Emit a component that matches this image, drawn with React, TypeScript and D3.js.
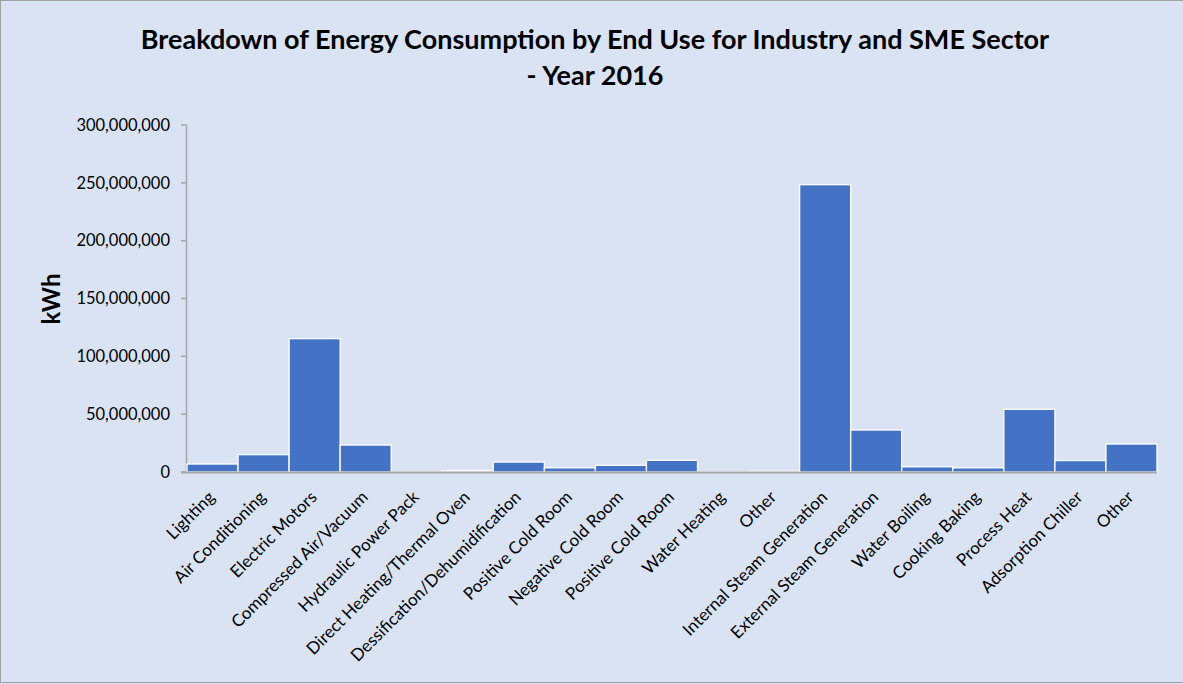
import React from "react";
import * as d3 from "d3";

const categories: string[] = [
  "Lighting",
  "Air Conditioning",
  "Electric Motors",
  "Compressed Air/Vacuum",
  "Hydraulic Power Pack",
  "Direct Heating/Thermal Oven",
  "Dessification/Dehumidification",
  "Positive Cold Room",
  "Negative Cold Room",
  "Positive Cold Room",
  "Water Heating",
  "Other",
  "Internal Steam Generation",
  "External Steam Generation",
  "Water Boiling",
  "Cooking Baking",
  "Process Heat",
  "Adsorption Chiller",
  "Other",
];

const consumptionKWh: number[] = [
  6900000, 15000000, 115300000, 23300000, 200000, 1200000, 8600000, 3600000,
  5800000, 10100000, 150000, 600000, 248400000, 36300000, 4500000, 3600000,
  54200000, 9900000, 24200000,
];

const yTicks: number[] = [0, 50000000, 100000000, 150000000, 200000000, 250000000, 300000000];

const titleLines: string[] = [
  "Breakdown of Energy Consumption by End Use for Industry and SME Sector",
  "- Year 2016",
];

const W = 1183;
const H = 684;
const FONT = "Lato, 'Open Sans', sans-serif";

export default function App() {
  const margin = { left: 187, right: 26, top: 125, bottom: 212 };
  const x = d3
    .scaleBand<number>()
    .domain(d3.range(categories.length))
    .range([margin.left, W - margin.right])
    .padding(0);
  const y = d3.scaleLinear().domain([0, 300000000]).range([H - margin.bottom, margin.top]);
  const fmt = d3.format(",");
  const axisColor = "#A6A6A6";
  const y0 = y(0);

  return (
    <svg
      width={W}
      height={H}
      style={{ position: "absolute", left: 0, top: 0, display: "block" }}
    >
      <rect x={0} y={0} width={W} height={H} fill="#DAE3F3" />
      <rect x={0.5} y={0.5} width={W + 2} height={H - 2} fill="none" stroke="#A0A0A0" strokeWidth={1} />

      {titleLines.map((t, i) => (
        <text
          key={i}
          x={595}
          y={49 + i * 36}
          textAnchor="middle"
          fontFamily={FONT}
          fontWeight={700}
          fontSize={27}
          fill="#000"
        >
          {t}
        </text>
      ))}

      <text
        transform={`translate(60,299) rotate(-90)`}
        textAnchor="middle"
        fontFamily={FONT}
        fontWeight={700}
        fontSize={24}
        fill="#000"
      >
        kWh
      </text>

      {/* y axis */}
      <line x1={margin.left - 0.5} x2={margin.left - 0.5} y1={y(300000000)} y2={y0} stroke={axisColor} strokeWidth={1.5} />
      {yTicks.map((t) => (
        <g key={t}>
          <line x1={margin.left - 6} x2={margin.left} y1={y(t)} y2={y(t)} stroke={axisColor} strokeWidth={1.5} />
          <text
            x={170}
            y={y(t)}
            dy="0.35em"
            textAnchor="end"
            fontFamily={FONT}
            fontSize={16.5}
            fill="#000"
          >
            {fmt(t)}
          </text>
        </g>
      ))}

      {/* bars */}
      {consumptionKWh.map((v, i) => (
        <rect
          key={i}
          x={x(i)!}
          y={y(v)}
          width={x.bandwidth()}
          height={y0 - y(v)}
          fill="#4472C4"
          stroke="#FFFFFF"
          strokeWidth={1.3}
        />
      ))}

      {/* x axis */}
      <line x1={margin.left - 6} x2={W - margin.right} y1={y0 + 0.5} y2={y0 + 0.5} stroke={axisColor} strokeWidth={2} />

      {categories.map((c, i) => {
        const cx = x(i)! + x.bandwidth() / 2 - 1;
        return (
          <text
            key={i}
            transform={`translate(${cx},${y0 + 22}) rotate(-45)`}
            textAnchor="end"
            dy="0.35em"
            fontFamily={FONT}
            fontSize={17}
            fill="#000"
          >
            {c}
          </text>
        );
      })}
    </svg>
  );
}
